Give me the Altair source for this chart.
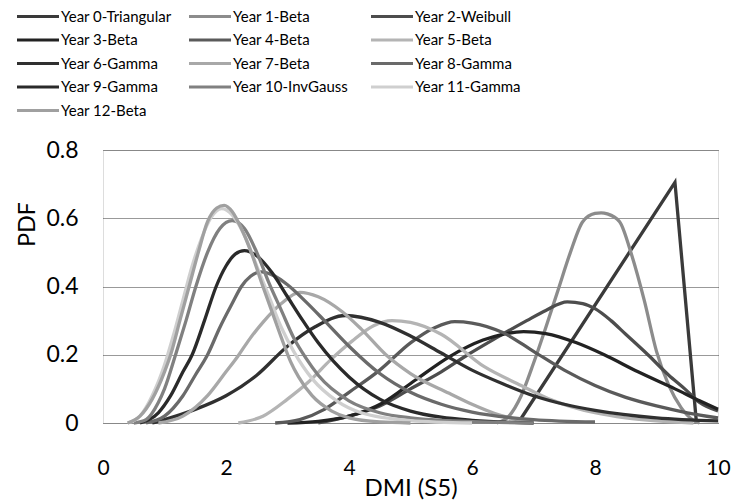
import altair as alt
import pandas as pd

series = ["Year 0-Triangular", "Year 1-Beta", "Year 2-Weibull", "Year 3-Beta",
          "Year 4-Beta", "Year 5-Beta", "Year 6-Gamma", "Year 7-Beta",
          "Year 8-Gamma", "Year 9-Gamma", "Year 10-InvGauss", "Year 11-Gamma",
          "Year 12-Beta"]
colors = ["#3a3a3a", "#8c8c8c", "#4d4d4d", "#222222", "#5a5a5a", "#b4b4b4",
          "#303030", "#a8a8a8", "#6a6a6a", "#2a2a2a", "#808080", "#cfcfcf",
          "#a0a0a0"]

x0 = [6.75, 9.3, 9.65]
y0 = [0, 0.705, 0]

x1 = [6.4, 6.6, 6.8, 7.0, 7.2, 7.4, 7.6, 7.8, 8.0, 8.1, 8.2, 8.4, 8.6, 8.8, 9.0, 9.2, 9.4, 9.6, 9.7]
y1 = [0, 0.02, 0.08, 0.175, 0.28, 0.39, 0.50, 0.59, 0.614, 0.616, 0.613, 0.59, 0.49, 0.36, 0.21, 0.11, 0.045, 0.008, 0]

x2 = [3.5, 4.0, 4.5, 5.0, 5.5, 5.93, 6.4, 6.89, 7.2, 7.55, 7.8, 8.0, 8.26, 8.5, 8.86, 9.2, 9.46, 9.7, 10]
y2 = [0, 0.02, 0.05, 0.10, 0.15, 0.20, 0.25, 0.30, 0.33, 0.355, 0.35, 0.335, 0.30, 0.26, 0.20, 0.14, 0.10, 0.06, 0.035]

x3 = [3.0, 3.5, 4.0, 4.54, 5.08, 5.63, 6.18, 6.5, 6.84, 7.2, 7.7, 8.15, 8.7, 9.3, 9.7, 10]
y3 = [0, 0.005, 0.02, 0.058, 0.126, 0.194, 0.243, 0.26, 0.268, 0.262, 0.235, 0.20, 0.15, 0.10, 0.065, 0.04]

x4 = [2.8, 3.2, 3.6, 4.0, 4.5, 5.0, 5.4, 5.72, 6.0, 6.5, 7.0, 7.5, 8.0, 8.5, 9.0, 9.5, 10]
y4 = [0, 0.01, 0.04, 0.09, 0.155, 0.235, 0.28, 0.297, 0.293, 0.265, 0.21, 0.155, 0.11, 0.075, 0.05, 0.03, 0.015]

x5 = [2.2, 2.6, 3.0, 3.34, 3.7, 4.05, 4.4, 4.7, 5.0, 5.5, 6.2, 6.8, 7.3, 8.0, 8.5, 9.0, 9.6]
y5 = [0, 0.02, 0.07, 0.12, 0.185, 0.24, 0.285, 0.30, 0.295, 0.26, 0.165, 0.11, 0.067, 0.03, 0.015, 0.006, 0]

x6 = [0.8, 1.0, 1.5, 2.0, 2.5, 3.0, 3.45, 3.94, 4.5, 5.0, 5.5, 6.0, 6.5, 7.0, 7.5, 8.0, 9.0, 10]
y6 = [0, 0.01, 0.04, 0.08, 0.14, 0.225, 0.282, 0.315, 0.295, 0.255, 0.205, 0.155, 0.115, 0.08, 0.055, 0.037, 0.015, 0.006]

x7 = [0.9, 1.3, 1.7, 2.0, 2.19, 2.36, 2.6, 2.9, 3.2, 3.5, 3.89, 4.2, 4.6, 5.0, 5.63, 6.0, 6.45, 7.0]
y7 = [0, 0.02, 0.08, 0.15, 0.195, 0.24, 0.295, 0.35, 0.383, 0.37, 0.326, 0.275, 0.20, 0.145, 0.087, 0.055, 0.023, 0]

x8 = [0.7, 1.0, 1.3, 1.5, 1.7, 1.9, 2.1, 2.25, 2.4, 2.57, 2.8, 3.0, 3.3, 3.6, 4.0, 4.5, 5.0, 5.5, 6.0, 7.0, 8.0]
y8 = [0, 0.02, 0.08, 0.14, 0.20, 0.28, 0.35, 0.40, 0.43, 0.443, 0.43, 0.405, 0.355, 0.30, 0.225, 0.145, 0.09, 0.055, 0.032, 0.01, 0.003]

x9 = [0.6, 0.9, 1.1, 1.3, 1.45, 1.65, 1.84, 2.0, 2.15, 2.3, 2.5, 2.75, 3.0, 3.25, 3.5, 4.0, 4.5, 5.0, 5.5, 6.0, 7.0]
y9 = [0, 0.03, 0.08, 0.15, 0.20, 0.30, 0.40, 0.46, 0.495, 0.505, 0.49, 0.44, 0.37, 0.30, 0.235, 0.135, 0.07, 0.035, 0.017, 0.008, 0]

x10 = [0.5, 0.7, 0.9, 1.0, 1.18, 1.35, 1.51, 1.7, 1.9, 2.1, 2.3, 2.5, 2.7, 2.9, 3.1, 3.3, 3.5, 4.0, 4.5, 5.0, 6.0, 7.0]
y10 = [0, 0.01, 0.06, 0.10, 0.20, 0.30, 0.40, 0.50, 0.57, 0.593, 0.57, 0.50, 0.41, 0.33, 0.25, 0.19, 0.14, 0.065, 0.03, 0.015, 0.004, 0]

x11 = [0.4, 0.6, 0.8, 1.0, 1.15, 1.3, 1.45, 1.6, 1.75, 1.93, 2.1, 2.3, 2.5, 2.7, 2.9, 3.1, 3.4, 3.8, 4.2, 5.0, 6.0]
y11 = [0, 0.02, 0.08, 0.17, 0.26, 0.36, 0.46, 0.54, 0.60, 0.628, 0.61, 0.55, 0.46, 0.37, 0.28, 0.21, 0.13, 0.065, 0.03, 0.007, 0]

x12 = [0.4, 0.6, 0.8, 1.0, 1.1, 1.25, 1.4, 1.55, 1.7, 1.85, 1.97, 2.1, 2.25, 2.41, 2.6, 2.74, 2.9, 3.05, 3.18, 3.4, 3.72, 4.0, 4.5, 5.0]
y12 = [0, 0.02, 0.07, 0.15, 0.20, 0.30, 0.40, 0.50, 0.59, 0.63, 0.638, 0.62, 0.57, 0.50, 0.40, 0.33, 0.25, 0.18, 0.135, 0.08, 0.035, 0.015, 0.003, 0]

xs = [x0, x1, x2, x3, x4, x5, x6, x7, x8, x9, x10, x11, x12]
ys = [y0, y1, y2, y3, y4, y5, y6, y7, y8, y9, y10, y11, y12]

rows = []
for i, (name, xx, yy) in enumerate(zip(series, xs, ys)):
    for j, (a, b) in enumerate(zip(xx, yy)):
        rows.append({"series": name, "order": i, "idx": j, "x": a, "y": b})
df = pd.DataFrame(rows)

FONT = "Lato, sans-serif"

# legend layout (pixels relative to the plot's top-left corner)
leg_col_x = [-86, 86, 268]
leg_row_y = [-133.5, -110, -86.5, -63, -39.5]
leg_sym_len = 42

color = alt.Color("series:N", scale=alt.Scale(domain=series, range=colors), legend=None)

xenc = alt.X("x:Q", scale=alt.Scale(domain=[0, 10], nice=False),
             axis=alt.Axis(title="DMI (S5)", values=[0, 2, 4, 6, 8, 10], grid=False,
                           domain=False, ticks=False, labelPadding=34, labelFlush=False,
                           labelFont=FONT, labelFontSize=21, labelColor="#000",
                           titleFont=FONT, titleFontSize=24, titleFontWeight="normal",
                           titleColor="#000", titlePadding=-2))
yenc = alt.Y("y:Q", scale=alt.Scale(domain=[0, 0.8], nice=False),
             axis=alt.Axis(title="PDF", values=[0, 0.2, 0.4, 0.6, 0.8], format=".1~f",
                           grid=True, gridColor="#333", gridDash=[1, 1], gridWidth=1,
                           domain=False, ticks=False, labelPadding=25, labelFlush=False,
                           labelFont=FONT, labelFontSize=23, labelColor="#000",
                           titleFont=FONT, titleFontSize=23, titleFontWeight="normal",
                           titleColor="#000", titleX=-76, titleY=74, titleAngle=-90,
                           titleBaseline="middle"))

base = alt.Chart(df)
tri = base.transform_filter(alt.datum.order == 0).mark_line(
    strokeWidth=3.3, interpolate="linear").encode(
    x=xenc, y=yenc, color=color, order="idx:Q", detail="series:N")
rest = base.transform_filter(alt.datum.order > 0).mark_line(
    strokeWidth=3.3, interpolate="monotone").encode(
    x=xenc, y=yenc, color=color, order="idx:Q", detail="series:N")

layers = [tri, rest]
one = pd.DataFrame({"k": [0]})
for i, (name, col) in enumerate(zip(series, colors)):
    r, c = divmod(i, 3)
    lx = leg_col_x[c]
    ly = leg_row_y[r]
    layers.append(alt.Chart(one).mark_rule(color=col, strokeWidth=3).encode(
        x=alt.value(lx), x2=alt.value(lx + leg_sym_len), y=alt.value(ly)))
    layers.append(alt.Chart(one).mark_text(
        text=name, align="left", baseline="middle", font=FONT, fontSize=15,
        color="#000").encode(x=alt.value(lx + leg_sym_len + 2), y=alt.value(ly)))

chart = alt.layer(*layers).properties(
    width=615, height=273,
    autosize=alt.AutoSizeParams(type="none"),
    padding={"left": 103, "top": 150, "right": 14, "bottom": 78},
).configure_view(stroke="#444", strokeWidth=1).configure(background="white")

chart.save("out.html", embed_options={"renderer": "svg", "actions": False})
